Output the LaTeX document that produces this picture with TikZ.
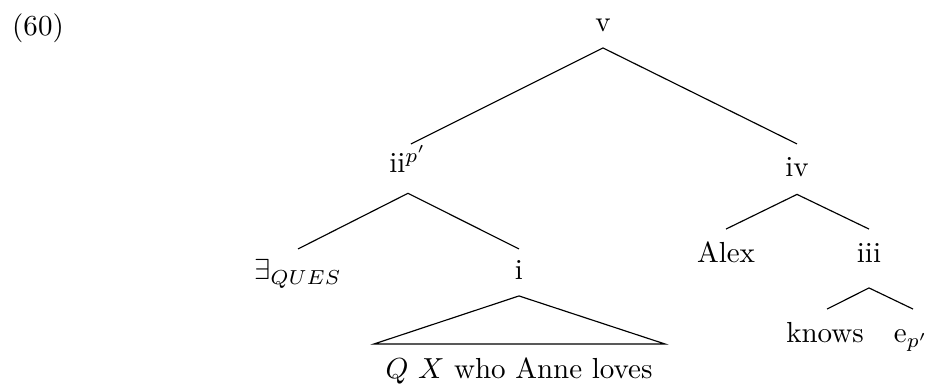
\documentclass[tikz,border=0pt]{standalone}
\begin{document}
\begin{tikzpicture}[x=0.3448pt,y=-0.3448pt,
  lbl/.style={anchor=base,inner sep=0pt},
  edge/.style={line width=0.4pt}]
\useasboundingbox (0,0) rectangle (925,388);
\node[lbl] (ex) at (38,36) {(60)};
\node[lbl] (v) at (603,32) {v};
\node[lbl] (ii) at (408,173) {ii$^{p'}$};
\node[lbl] (iv) at (797,177) {iv};
\node[lbl] (q) at (298,280) {$\exists_{QUES}$};
\node[lbl] (i) at (519,280) {i};
\node[lbl] (alex) at (726,263) {Alex};
\node[lbl] (iii) at (869,263) {iii};
\node[lbl] (knows) at (825,343) {knows};
\node[lbl] (e) at (911,343) {e$_{p'}$};
\node[lbl] (txt) at (519,379) {$Q$ $X$ who Anne loves};
% connector ends
\coordinate (vA) at ([yshift=-5.5pt]v.base);
\coordinate (iiA) at ([yshift=-7pt]ii.base);
\coordinate (iiT) at ([shift={(1pt,10pt)}]ii.base);
\coordinate (ivA) at ([yshift=-6pt]iv.base);
\coordinate (ivT) at ([yshift=11.4pt]iv.base);
\coordinate (qT) at ([yshift=10.7pt]q.base);
\coordinate (iT) at ([yshift=10.7pt]i.base);
\coordinate (iA) at ([yshift=-5.5pt]i.base);
\coordinate (alexT) at ([yshift=11.7pt]alex.base);
\coordinate (iiiT) at ([yshift=11.7pt]iii.base);
\coordinate (iiiA) at ([yshift=-8.6pt]iii.base);
\coordinate (knowsT) at ([shift={(0.7pt,11.7pt)}]knows.base);
\coordinate (eT) at ([shift={(0.7pt,11.7pt)}]e.base);
\coordinate (triL) at (374,344);
\coordinate (triR) at (665,344);
\draw[edge] (iiT) -- (vA) -- (ivT);
\draw[edge] (qT) -- (iiA) -- (iT);
\draw[edge] (alexT) -- (ivA) -- (iiiT);
\draw[edge] (knowsT) -- (iiiA) -- (eT);
\draw[edge] (triL) -- (iA) -- (triR) -- cycle;
\end{tikzpicture}
\end{document}
